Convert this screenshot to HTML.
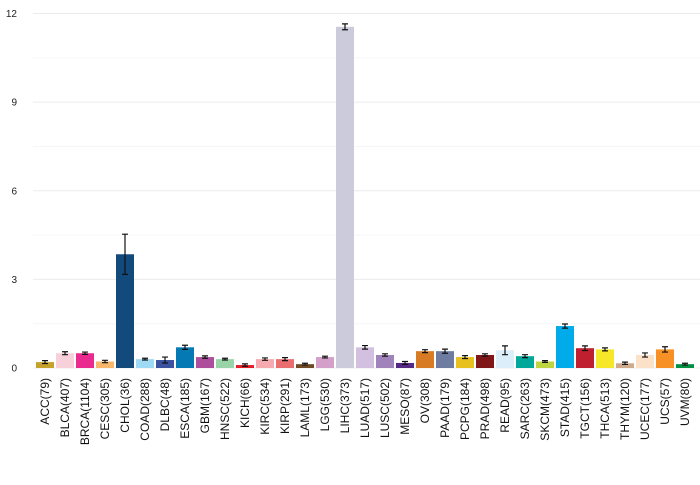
<!DOCTYPE html>
<html><head><meta charset="utf-8"><style>
body{margin:0;background:#fff;}
svg text{font-family:"Liberation Sans",sans-serif;}
</style></head><body>
<svg id="chart" width="700" height="480" xmlns="http://www.w3.org/2000/svg"></svg>
<script>
const categories=["ACC(79)","BLCA(407)","BRCA(1104)","CESC(305)","CHOL(36)","COAD(288)","DLBC(48)","ESCA(185)","GBM(167)","HNSC(522)","KICH(66)","KIRC(534)","KIRP(291)","LAML(173)","LGG(530)","LIHC(373)","LUAD(517)","LUSC(502)","MESO(87)","OV(308)","PAAD(179)","PCPG(184)","PRAD(498)","READ(95)","SARC(263)","SKCM(473)","STAD(415)","TGCT(156)","THCA(513)","THYM(120)","UCEC(177)","UCS(57)","UVM(80)"];
const values=[0.2,0.5,0.5,0.22,3.85,0.3,0.27,0.7,0.37,0.3,0.1,0.3,0.3,0.13,0.37,11.55,0.7,0.44,0.17,0.57,0.57,0.37,0.44,0.6,0.4,0.22,1.42,0.67,0.63,0.16,0.44,0.63,0.13];
const errors=[0.05,0.05,0.04,0.04,0.68,0.03,0.1,0.07,0.04,0.03,0.04,0.04,0.05,0.03,0.03,0.1,0.06,0.04,0.05,0.05,0.07,0.05,0.04,0.15,0.05,0.03,0.07,0.08,0.05,0.04,0.07,0.09,0.03];
const colors=["#c4a22b","#f8d0da","#eb2a8f","#f6b66c","#134a7c","#9ed9f5","#3a52a0","#0479b4","#ad4f9c","#99d3a8","#e41e26","#f6a9ae","#ea6d6f","#6f4a24","#d49fc9","#cbcbdc","#d3c0e0","#a183bc","#562886","#d77b24","#6e7ca1","#e6c11f","#7f1618","#dbeef9","#00a89b","#bfd441","#00abea","#bf1f2e","#f6e829","#cfab8b","#fae1c8","#f79125","#009144"];
const yTicks=[0,3,6,9,12];
const svg=document.getElementById('chart');
const NS="http://www.w3.org/2000/svg";
const y0=368, pxPer=(368-13.5)/12;
const yS=v=>y0-v*pxPer;
const xS=i=>45+20*i;
function mk(t,a){const e=document.createElementNS(NS,t);for(const k in a)e.setAttribute(k,a[k]);svg.appendChild(e);return e;}
for(let v=0;v<=12;v+=1.5){
  const g=mk('line',{x1:33,x2:700,y1:yS(v),y2:yS(v),stroke:v%3===0?'#ececec':'#f6f6f6','stroke-width':1});
  
  
}
yTicks.forEach(t=>{
  const tx=mk('text',{x:17,y:yS(t)+3.5,'text-anchor':'end','font-size':10,fill:'#222'});
  tx.textContent=t;
  
  
});
categories.forEach((c,i)=>{
  const cx=xS(i), v=values[i], e=errors[i];
  const r=mk('rect',{x:cx-9,y:yS(v),width:18,height:y0-yS(v),fill:colors[i]});
  
  
  const eb=mk('path',{d:`M${cx} ${yS(v+e)}V${yS(v-e)}M${cx-3} ${yS(v+e)}H${cx+3}M${cx-3} ${yS(v-e)}H${cx+3}`,stroke:'#111','stroke-width':1.2,fill:'none'});
  
  
  const tx=mk('text',{x:0,y:0,'text-anchor':'end','font-size':12,fill:'#111',transform:`translate(${cx+4},378) rotate(-90)`});
  tx.textContent=c;
  
  
});
</script>
</body></html>
